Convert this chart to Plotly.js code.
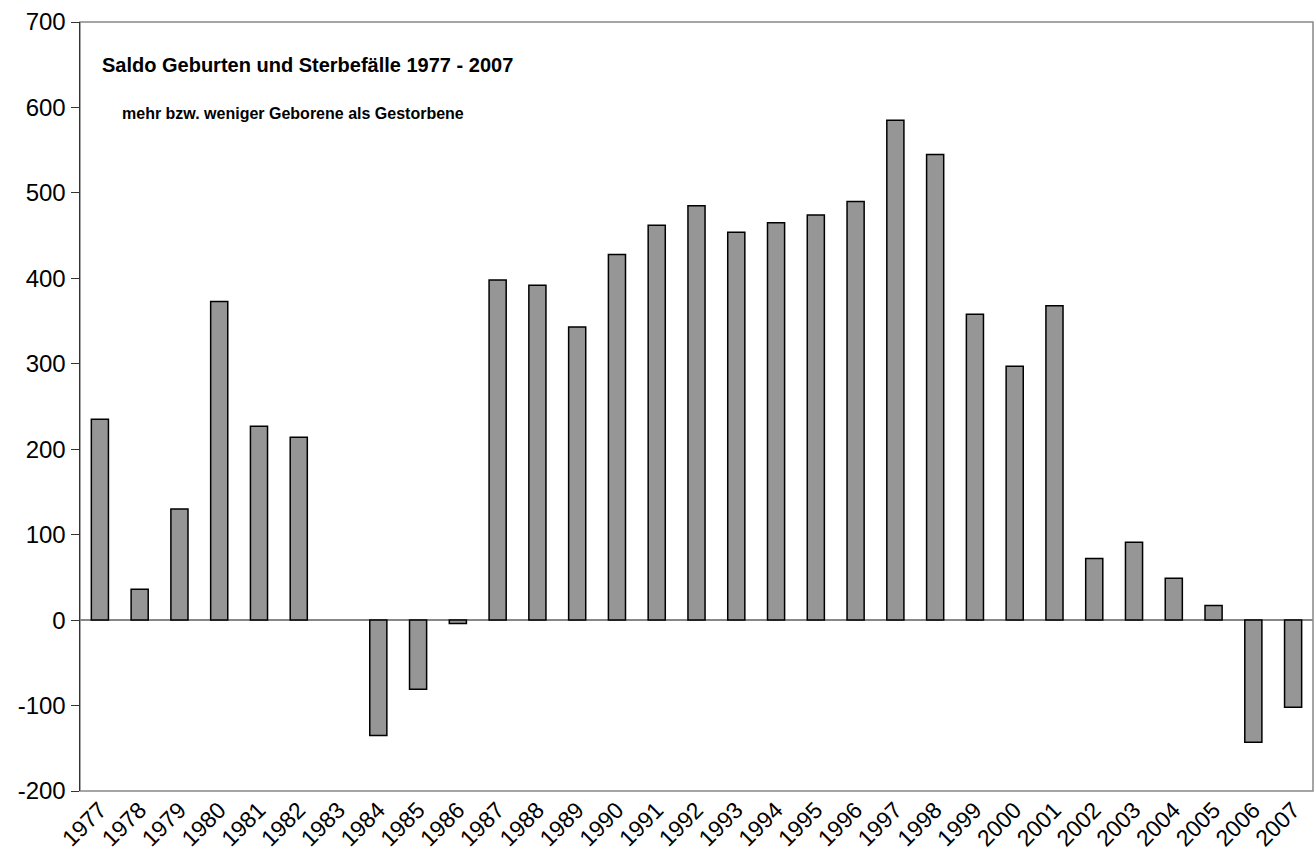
<!DOCTYPE html>
<html>
<head>
<meta charset="utf-8">
<script src="https://cdn.plot.ly/plotly-3.0.1.min.js"></script>
<style>html,body{margin:0;padding:0;background:#fff;}#chart{width:1316px;height:866px;}</style>
</head>
<body>
<div id="chart"></div>
<script>
const years = ['1977','1978','1979','1980','1981','1982','1983','1984','1985','1986','1987','1988','1989','1990','1991','1992','1993','1994','1995','1996','1997','1998','1999','2000','2001','2002','2003','2004','2005','2006','2007'];
const saldo = [235,36,130,373,227,214,0,-135,-81,-4,398,392,343,428,462,485,454,465,474,490,585,545,358,297,368,72,91,49,17,-143,-102];
const yTicks = [-200,-100,0,100,200,300,400,500,600,700];
const chartTitle = 'Saldo Geburten und Sterbefälle 1977 - 2007';
const chartSubtitle = 'mehr bzw. weniger Geborene als Gestorbene';

const trace = {
  type: 'bar',
  x: years,
  y: saldo,
  marker: {color: '#969696', line: {color: '#000000', width: saldo.map(v => v === 0 ? 0 : 1.5)}},
  hoverinfo: 'x+y'
};

const layout = {
  width: 1316,
  height: 866,
  margin: {l: 80, r: 3, t: 22, b: 75},
  paper_bgcolor: '#ffffff',
  plot_bgcolor: '#ffffff',
  bargap: 0.57,
  showlegend: false,
  font: {family: 'Liberation Sans, Arial, sans-serif', color: '#000'},
  xaxis: {
    type: 'category',
    tickangle: -45,
    tickfont: {size: 23, family: 'Liberation Sans, Arial, sans-serif'},
    showgrid: false,
    showline: false,
    ticks: '',
    zeroline: false
  },
  yaxis: {
    range: [-200, 700],
    tickvals: yTicks,
    ticktext: yTicks.map(String),
    tickfont: {size: 24, family: 'Liberation Sans, Arial, sans-serif'},
    showgrid: false,
    showline: true,
    linecolor: '#333333',
    linewidth: 1.5,
    ticks: 'outside',
    ticklen: 8,
    tickcolor: '#333333',
    tickwidth: 1,
    zeroline: true,
    zerolinecolor: '#888888',
    zerolinewidth: 1.5
  },
  shapes: [
    {type: 'rect', xref: 'paper', yref: 'paper', x0: 0, x1: 1, y0: 0, y1: 1,
     line: {color: '#888888', width: 1.5}, fillcolor: 'rgba(0,0,0,0)', layer: 'below'}
  ],
  annotations: [
    {text: '<b>' + chartTitle + '</b>', xref: 'paper', yref: 'paper', x: 0.0162, y: 0.944,
     xanchor: 'left', yanchor: 'middle', showarrow: false,
     font: {size: 20, family: 'Liberation Sans, Arial, sans-serif', color: '#000'}},
    {text: '<b>' + chartSubtitle + '</b>', xref: 'paper', yref: 'paper', x: 0.0325, y: 0.881,
     xanchor: 'left', yanchor: 'middle', showarrow: false,
     font: {size: 16, family: 'Liberation Sans, Arial, sans-serif', color: '#000'}}
  ]
};

Plotly.newPlot('chart', [trace], layout, {displayModeBar: false, staticPlot: true});
</script>
</body>
</html>
